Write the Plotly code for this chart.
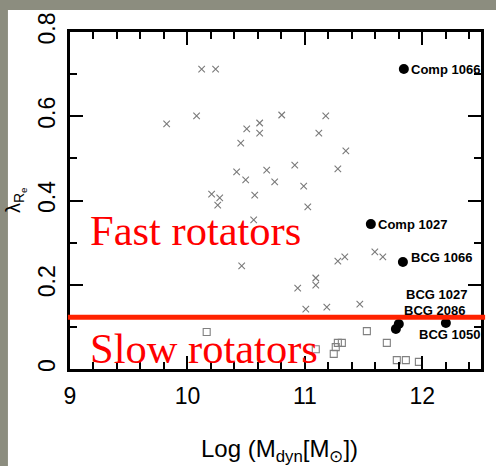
import plotly.graph_objects as go

# Fast/slow rotator sample (crosses)
cross_logm = [9.823, 10.078, 10.121, 10.240, 10.505, 10.454, 10.615, 10.615, 10.803, 11.178,
              11.119, 11.349, 10.419, 10.496, 10.675, 10.914, 11.281, 10.206, 10.275, 10.258,
              10.573, 10.743, 10.990, 10.564, 11.025, 10.462, 10.939, 11.093, 11.093, 11.008,
              11.187, 11.281, 11.340, 11.468, 11.596, 11.664]
cross_lam = [0.582, 0.601, 0.712, 0.712, 0.570, 0.536, 0.584, 0.560, 0.603, 0.601,
             0.560, 0.518, 0.468, 0.449, 0.472, 0.484, 0.475, 0.415, 0.406, 0.389,
             0.413, 0.444, 0.434, 0.354, 0.385, 0.245, 0.192, 0.216, 0.199, 0.142,
             0.147, 0.256, 0.266, 0.154, 0.278, 0.266]

# Slow rotators (open squares)
square_logm = [10.164, 11.093, 11.246, 11.263, 11.281, 11.315, 11.528, 11.698, 11.783, 11.860, 11.971]
square_lam = [0.088, 0.047, 0.036, 0.052, 0.062, 0.062, 0.090, 0.062, 0.021, 0.021, 0.017]

# Cluster galaxies (filled circles)
gal_names = ["Comp 1066", "Comp 1027", "BCG 1066", "BCG 1027", "BCG 2086", "BCG 1050"]
gal_logm = [11.843, 11.562, 11.835, 11.800, 11.775, 12.201]
gal_lam = [0.712, 0.344, 0.254, 0.107, 0.095, 0.109]

divide_lam = 0.123

x_ticks = [9, 10, 11, 12]
y_ticks = [0, 0.2, 0.4, 0.6, 0.8]

fig = go.Figure()
fig.add_trace(go.Scatter(x=cross_logm, y=cross_lam, mode="markers",
                         marker=dict(symbol="x-thin-open", size=6.5, color="#7a7a7a",
                                     line=dict(width=1.1, color="#7a7a7a")),
                         showlegend=False, hoverinfo="skip"))
fig.add_trace(go.Scatter(x=square_logm, y=square_lam, mode="markers",
                         marker=dict(symbol="square-open", size=7, color="#808080",
                                     line=dict(width=1.1, color="#808080")),
                         showlegend=False, hoverinfo="skip"))
fig.add_trace(go.Scatter(x=gal_logm, y=gal_lam, mode="markers",
                         marker=dict(symbol="circle", size=10, color="black"),
                         showlegend=False, hoverinfo="skip"))

# label offsets (style only)
label_style = {
    "Comp 1066": dict(xanchor="left", yanchor="middle", xshift=5, yshift=0),
    "Comp 1027": dict(xanchor="left", yanchor="middle", xshift=5, yshift=0),
    "BCG 1066": dict(xanchor="left", yanchor="middle", xshift=6, yshift=5),
    "BCG 1027": dict(xanchor="left", yanchor="middle", xshift=5, yshift=29),
    "BCG 2086": dict(xanchor="left", yanchor="middle", xshift=6, yshift=18),
    "BCG 1050": dict(xanchor="center", yanchor="middle", xshift=4, yshift=-11),
}
for name, gx, gy in zip(gal_names, gal_logm, gal_lam):
    st = label_style[name]
    fig.add_annotation(x=gx, y=gy, text="<b>" + name + "</b>", showarrow=False,
                       font=dict(family="Liberation Sans", size=13, color="black"), **st)

# white panel behind the chart
fig.add_shape(type="rect", xref="paper", yref="paper", x0=-0.151, x1=1.1, y0=-0.3, y1=1.065,
              fillcolor="white", line=dict(width=0), layer="below")

# dividing line
fig.add_shape(type="line", xref="paper", yref="y", x0=-0.005, x1=1.01, y0=divide_lam, y1=divide_lam,
              line=dict(color="#ff2200", width=5), layer="above")

fig.add_annotation(xref="paper", yref="paper", x=(88 - 70) / 411, y=(369 - 230) / 337,
                   text="Fast rotators", showarrow=False, xanchor="left", yanchor="middle",
                   font=dict(family="Liberation Serif", size=42.5, color="#ff0000"))
fig.add_annotation(xref="paper", yref="paper", x=(88 - 70) / 411, y=(369 - 348) / 337,
                   text="Slow rotators", showarrow=False, xanchor="left", yanchor="middle",
                   font=dict(family="Liberation Serif", size=42.5, color="#ff0000"))

# axis titles
fig.add_annotation(xref="paper", yref="paper", x=(279 - 70) / 411, y=(369 - 450) / 337,
                   text="Log (M<sub>dyn</sub>[M<sub>⊙</sub>])", showarrow=False,
                   xanchor="center", yanchor="middle",
                   font=dict(family="Liberation Sans", size=24, color="black"))
fig.add_annotation(xref="paper", yref="paper", x=(15 - 70) / 411, y=(369 - 200) / 337,
                   text="λ<sub>R<sub>e</sub></sub>", showarrow=False, textangle=-90,
                   xanchor="center", yanchor="middle",
                   font=dict(family="Liberation Sans", size=20, color="black"))

axis_common = dict(showgrid=False, zeroline=False, showline=True, linecolor="black", linewidth=2.5,
                   mirror="allticks", ticks="inside", ticklen=13, tickwidth=2, tickcolor="black",
                   tickfont=dict(family="Liberation Sans", size=23, color="black"))
fig.update_xaxes(range=[9, 12.5], tickvals=x_ticks, ticktext=[str(v) for v in x_ticks],
                 ticklabelstandoff=5,
                 minor=dict(dtick=0.2, tick0=9, ticks="inside", ticklen=7, tickwidth=2, tickcolor="black"),
                 **axis_common)
fig.update_yaxes(range=[0, 0.8], tickvals=y_ticks, ticktext=["0", "0.2", "0.4", "0.6", "0.8"],
                 tickangle=-90, ticklabelstandoff=3,
                 minor=dict(dtick=0.1, tick0=0, ticks="inside", ticklen=7, tickwidth=2, tickcolor="black"),
                 **axis_common)

fig.update_layout(width=496, height=466, margin=dict(l=70, r=15, t=32, b=97),
                  paper_bgcolor="#8c8d7f", plot_bgcolor="white", showlegend=False)

fig.write_html("out.html", config={"displayModeBar": False},
               post_script="document.body.style.margin='0';document.body.style.overflow='hidden';")
